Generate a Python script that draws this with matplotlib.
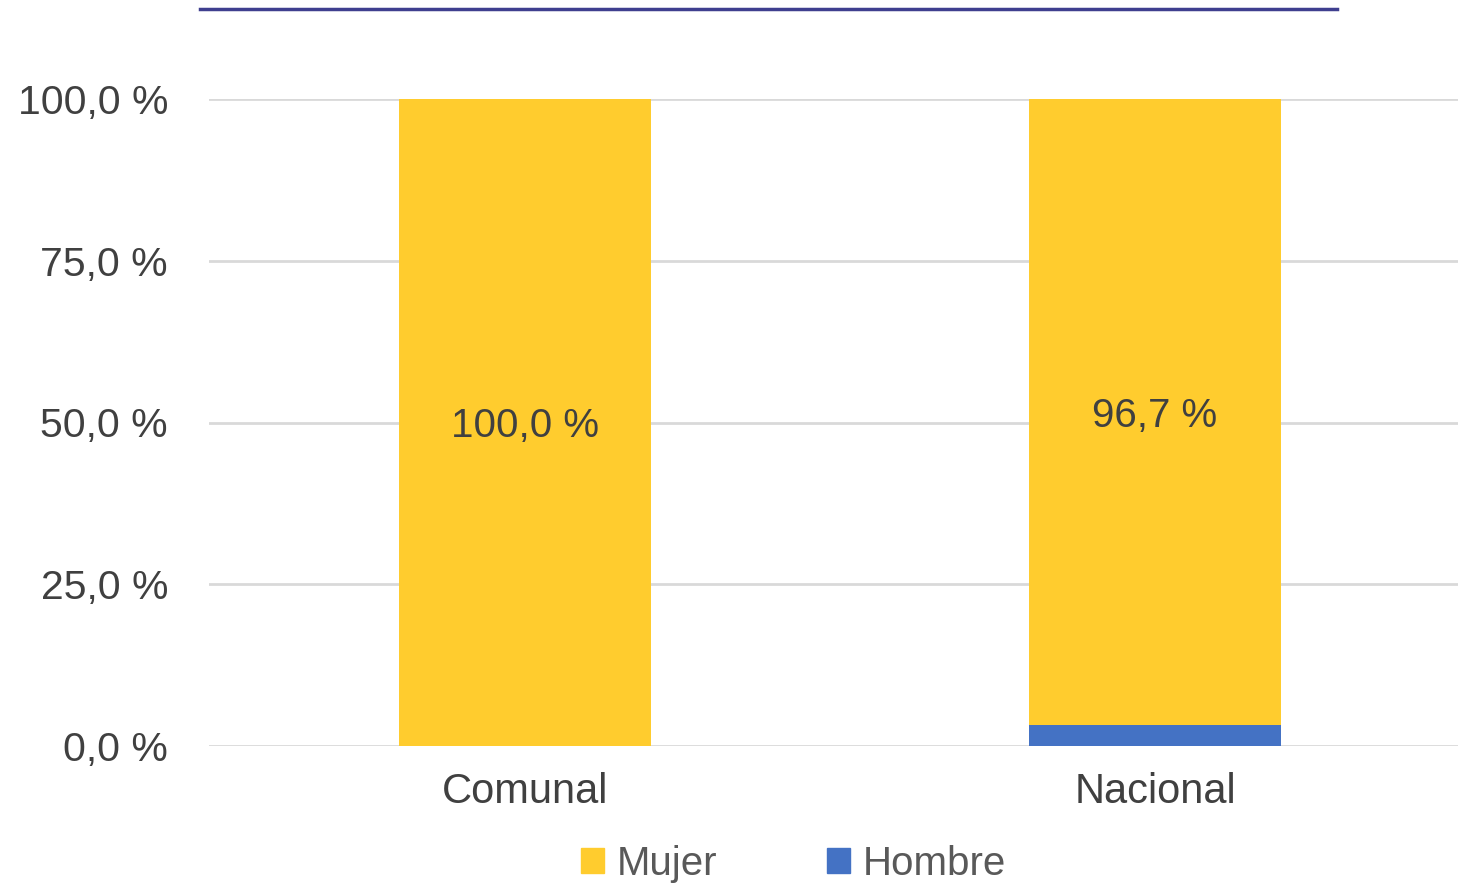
import matplotlib
matplotlib.use("Agg")
import matplotlib.pyplot as plt
from matplotlib.lines import Line2D
import numpy as np

plt.rcParams['font.family'] = ['Liberation Sans', 'DejaVu Sans']

categories = ["Comunal", "Nacional"]
mujer = [100.0, 96.7]
hombre = [0.0, 3.3]
yticks = [0, 25, 50, 75, 100]
ytick_labels = ["0,0 %", "25,0 %", "50,0 %", "75,0 %", "100,0 %"]

col_mujer = "#FFCC2E"
col_hombre = "#4472C4"
txt = "#404040"

fig = plt.figure(figsize=(14.58, 8.83), dpi=100)
ax = fig.add_axes([209 / 1458, 137 / 883, 1 - 209 / 1458, 647 / 883])

x = np.arange(len(categories))
w = 0.40
ax.bar(x, hombre, w, color=col_hombre, label="Hombre", zorder=3)
ax.bar(x, mujer, w, bottom=hombre, color=col_mujer, label="Mujer", zorder=3)

for i in range(len(categories)):
    ax.text(x[i], hombre[i] + mujer[i] / 2, f"{mujer[i]:.1f} %".replace(".", ","),
            ha="center", va="center_baseline", fontsize=29, color=txt, zorder=4)

ax.set_xlim(-0.5016, 1.481)
ax.set_ylim(0, 100)
ax.set_yticks(yticks)
ax.set_yticklabels(ytick_labels)
ax.set_xticks(x)
ax.set_xticklabels(categories)
ax.tick_params(axis="y", length=0, pad=29.5, labelsize=29.5, labelcolor=txt)
ax.tick_params(axis="x", length=0, pad=19, labelsize=30, labelcolor=txt)
ax.grid(axis="y", color="#D9D9D9", linewidth=2, zorder=0)
for s in ax.spines.values():
    s.set_visible(False)

handles = [plt.Rectangle((0, 0), 1, 1, color=col_mujer), plt.Rectangle((0, 0), 1, 1, color=col_hombre)]
fig.legend(handles, ["Mujer", "Hombre"], loc="center", bbox_to_anchor=(0.5445, 0.022),
           ncol=2, frameon=False, fontsize=29, labelcolor="#595959",
           handlelength=0.57, handleheight=0.57, handletextpad=0.32, columnspacing=2.72)

fig.add_artist(Line2D([200 / 1458, 1337 / 1458], [1 - 9 / 883, 1 - 9 / 883],
                      color="#3F3F8F", linewidth=2.5))

fig.savefig("out.png", dpi=100)
